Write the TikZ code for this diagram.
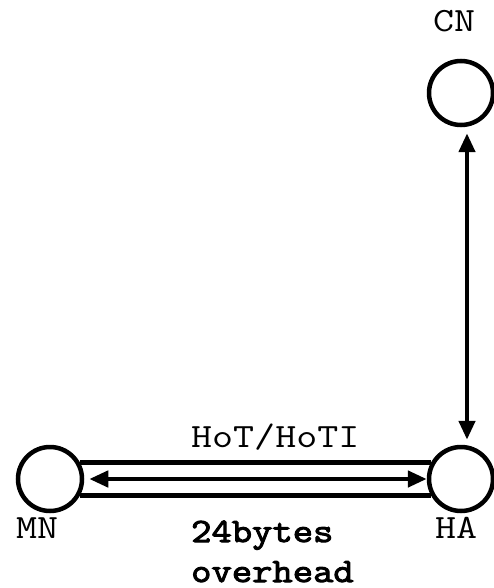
\documentclass[tikz,border=0pt]{standalone}
\usepackage{fontspec}
\newfontfamily\monofont[FakeStretch=1.2]{Latin Modern Mono}
\newfontfamily\heavymono[FakeStretch=1.16,FakeBold=3]{Latin Modern Mono}
\usetikzlibrary{arrows.meta}
\begin{document}
\begin{tikzpicture}[x=1pt,y=-1pt,
  host/.style={circle,draw,line width=4.5pt,minimum size=64pt,inner sep=0pt},
  link/.style={line width=4.5pt},
  msg/.style={line width=4.5pt,{Triangle[length=19pt,width=16pt]}-{Triangle[length=19pt,width=16pt]}},
  lbl/.style={inner sep=0pt,anchor=base west,font=\monofont\fontsize{34}{38}\selectfont},
  note/.style={lbl,font=\heavymono\fontsize{34}{38}\selectfont}]
\useasboundingbox (0,0) rectangle (494,588);
% hosts
\node[host] (cn) at (461,93) {};
\node[host] (ha) at (461,479) {};
\node[host] (mn) at (50,479) {};
% names
\node[lbl] (cnname) at (433,32) {CN};
\node[lbl] (mnname) at (16,538) {MN};
\node[lbl] (haname) at (435,538) {HA};
% tunnel between MN and HA
\draw[link] (mn.29) -- (ha.151);
\draw[link] (mn.-29) -- (ha.-151);
\draw[msg,shorten <=5pt] (mn.east) -- (ha.west);
% CN -- HA signalling
\draw[msg,shorten <=6pt,shorten >=5pt] ([xshift=6pt]cn.south) -- ([xshift=6pt]ha.north);
% message labels
\node[lbl] (hot) at (191,447) {HoT/HoTI};
\node[note] (ovh1) at (191,542) {24bytes};
\node[note] (ovh2) at (191,582) {overhead};
\end{tikzpicture}
\end{document}
